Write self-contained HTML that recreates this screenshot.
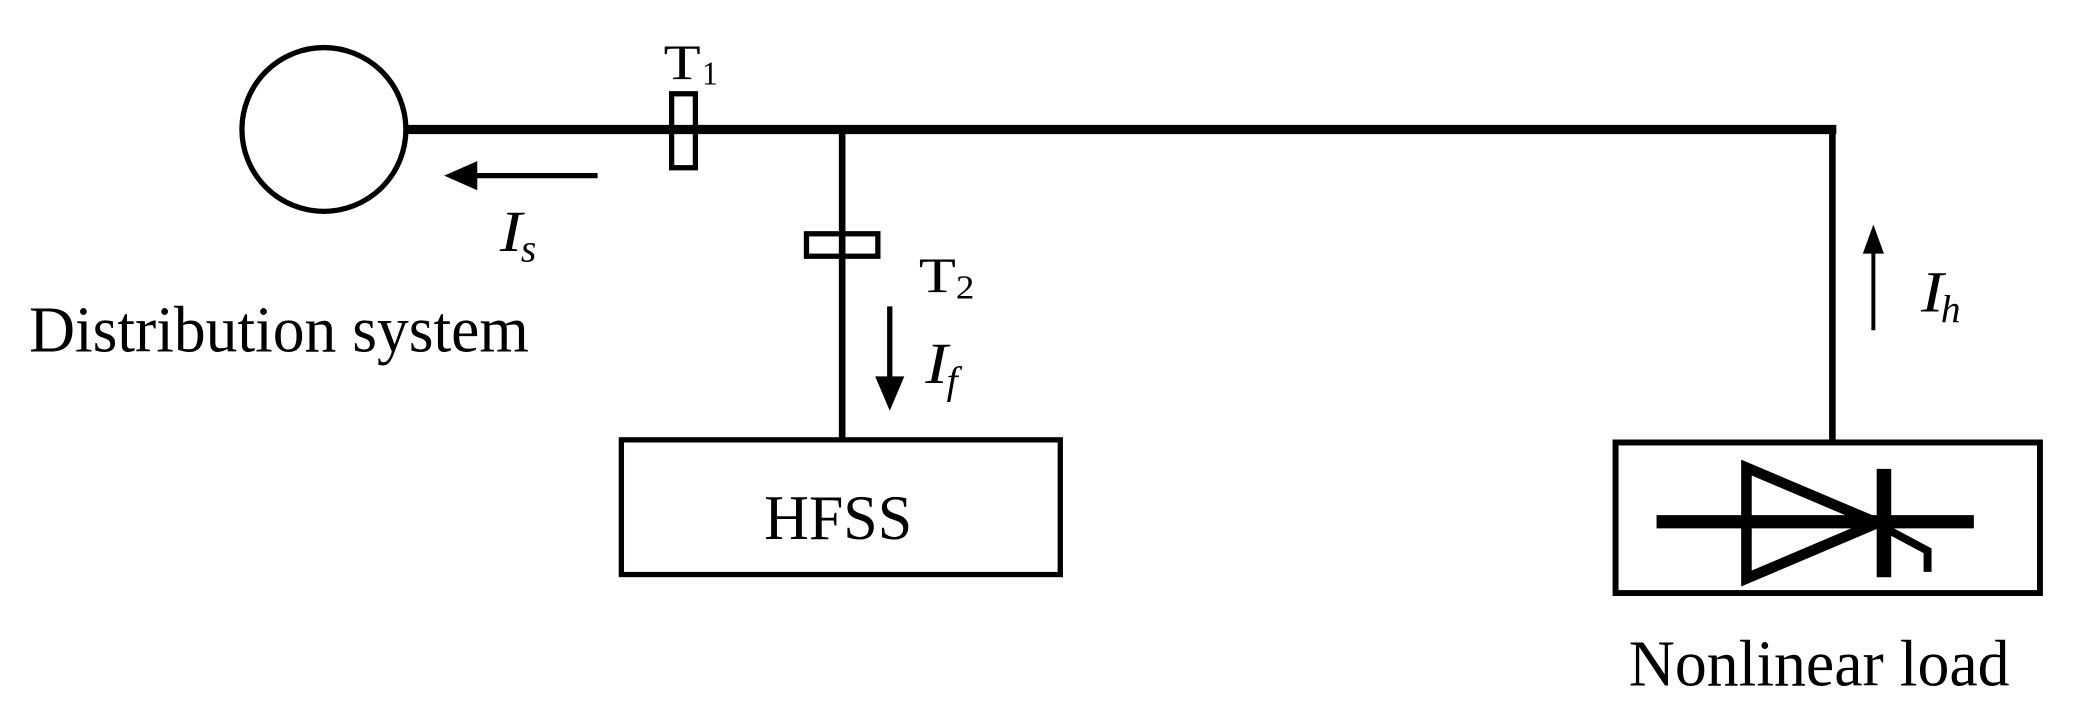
<!DOCTYPE html>
<html><head><style>html,body{margin:0;padding:0;background:#fff;}svg{display:block}</style></head>
<body>
<svg width="2073" height="704" viewBox="0 0 1568 533" preserveAspectRatio="none" xmlns="http://www.w3.org/2000/svg" font-family="Liberation Serif, serif">
<rect width="1568" height="533" fill="#fff"/>
<ellipse cx="245" cy="98" rx="62" ry="62" fill="none" stroke="#000" stroke-width="4"/>
<line x1="307" y1="98" x2="1389" y2="98" stroke="#000" stroke-width="7"/>
<line x1="1386" y1="96" x2="1386" y2="333" stroke="#000" stroke-width="5"/>
<line x1="637" y1="98" x2="637" y2="333" stroke="#000" stroke-width="5"/>
<rect x="508" y="71" width="18" height="56" fill="#fff" stroke="#000" stroke-width="4"/>
<line x1="508" y1="98" x2="526" y2="98" stroke="#000" stroke-width="7"/>
<rect x="610" y="177" width="54" height="17" fill="#fff" stroke="#000" stroke-width="4"/>
<line x1="637" y1="177" x2="637" y2="194" stroke="#000" stroke-width="5"/>
<text x="502" y="60" font-size="38" textLength="28" lengthAdjust="spacingAndGlyphs">T</text>
<text x="531" y="64" font-size="26" textLength="12" lengthAdjust="spacingAndGlyphs">1</text>
<text x="695" y="221" font-size="38" textLength="28" lengthAdjust="spacingAndGlyphs">T</text>
<text x="723" y="226" font-size="26" textLength="14" lengthAdjust="spacingAndGlyphs">2</text>
<line x1="452" y1="133" x2="355" y2="133" stroke="#000" stroke-width="4"/>
<polygon points="336,133 361,122 361,144" fill="#000"/>
<text x="378" y="190" font-size="44" font-style="italic" textLength="17" lengthAdjust="spacingAndGlyphs">I</text>
<text x="394" y="198" font-size="30" font-style="italic">s</text>
<text x="22" y="266" font-size="50" textLength="378" lengthAdjust="spacingAndGlyphs">Distribution system</text>
<line x1="673" y1="232" x2="673" y2="290" stroke="#000" stroke-width="4"/>
<polygon points="673,311 662,285 684,285" fill="#000"/>
<text x="700" y="290" font-size="44" font-style="italic" textLength="17" lengthAdjust="spacingAndGlyphs">I</text>
<text x="716" y="298" font-size="30" font-style="italic">f</text>
<rect x="470" y="333" width="332" height="102" fill="none" stroke="#000" stroke-width="4"/>
<text x="578" y="408" font-size="48" textLength="112" lengthAdjust="spacingAndGlyphs">HFSS</text>
<line x1="1417" y1="250" x2="1417" y2="190" stroke="#000" stroke-width="3"/>
<polygon points="1417,170 1409,192 1425,192" fill="#000"/>
<text x="1453" y="236" font-size="44" font-style="italic" textLength="17" lengthAdjust="spacingAndGlyphs">I</text>
<text x="1468" y="244" font-size="30" font-style="italic">h</text>
<rect x="1222" y="335" width="321" height="114" fill="none" stroke="#000" stroke-width="4.5"/>
<line x1="1253" y1="395" x2="1493" y2="395" stroke="#000" stroke-width="10"/>
<polygon points="1321,354 1321,438 1420,396" fill="none" stroke="#000" stroke-width="8"/>
<line x1="1425" y1="355" x2="1425" y2="437" stroke="#000" stroke-width="11"/>
<polyline points="1428,401 1458,417 1458,433" fill="none" stroke="#000" stroke-width="6"/>
<text x="1232" y="519" font-size="50" textLength="288" lengthAdjust="spacingAndGlyphs">Nonlinear load</text>
</svg>
</body></html>
